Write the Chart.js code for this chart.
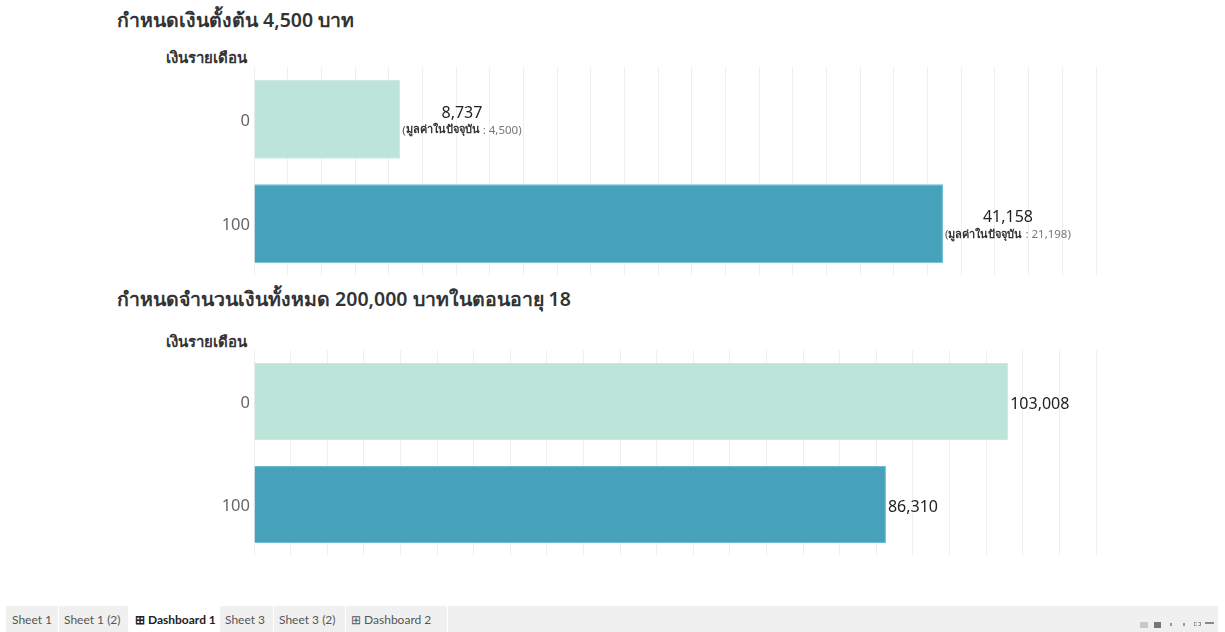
<!DOCTYPE html>
<html>
<head>
<meta charset="utf-8">
<script src="https://cdn.jsdelivr.net/npm/chart.js@4"></script>
<style>
  html, body { margin: 0; padding: 0; background: #fff; }
  body { width: 1225px; height: 632px; position: relative; overflow: hidden;
         font-family: "Noto Sans", "Open Sans", sans-serif; color: #333; }
  .title { position: absolute; left: 117px; font-size: 19.5px; font-weight: 600; color: #333; white-space: nowrap; }
  .axis-title { position: absolute; left: 166px; font-size: 15px; font-weight: 700; color: #333; white-space: nowrap; }
  canvas { position: absolute; left: 0; }
  .tabbar { position: absolute; left: 6px; top: 606px; width: 1212px; height: 26px; background: #f0f0f0;
            font-family: Lato, "Open Sans", sans-serif; font-size: 12px; color: #555; }
  .tab { position: absolute; top: 0; height: 26px; line-height: 28px; white-space: nowrap; }
  .tab.active { background: #fff; color: #222; font-weight: 700; }
  .sep { position: absolute; top: 0; width: 1px; height: 26px; background: #fff; }
  .icons { position: absolute; top: 622px; height: 8px; }
  .icons span { position: absolute; top: 0; height: 6px; }
</style>
</head>
<body>
<div class="title" style="top:5px">กำหนดเงินตั้งต้น 4,500 บาท</div>
<div class="axis-title" style="top:46px">เงินรายเดือน</div>
<canvas id="c1" width="1225" height="222" style="top:60px"></canvas>

<div class="title" style="top:284px">กำหนดจำนวนเงินทั้งหมด 200,000 บาทในตอนอายุ 18</div>
<div class="axis-title" style="top:330px">เงินรายเดือน</div>
<canvas id="c2" width="1225" height="212" style="top:344px"></canvas>

<div class="tabbar">
  <div class="tab" style="left:6px">Sheet 1</div>
  <div class="sep" style="left:52px"></div>
  <div class="tab" style="left:58px">Sheet 1 (2)</div>
  <div class="tab active" style="left:122px;width:92px;padding-left:7px;box-sizing:border-box">&#8862; Dashboard 1</div>
  <div class="tab" style="left:219px">Sheet 3</div>
  <div class="sep" style="left:267px"></div>
  <div class="tab" style="left:273px">Sheet 3 (2)</div>
  <div class="sep" style="left:339px"></div>
  <div class="tab" style="left:345px">&#8862; Dashboard 2</div>
  <div class="sep" style="left:441px"></div>
</div>
<div class="icons" style="left:1140px">
  <span style="left:0;width:8px;background:#c8c8c8"></span>
  <span style="left:14px;width:7px;background:#777"></span>
  <span style="left:30px;top:1px;width:2px;height:3px;background:#999"></span>
  <span style="left:43px;top:1px;width:2px;height:3px;background:#999"></span>
  <span style="left:54px;width:7px;border:1px dashed #999;height:4px;box-sizing:border-box"></span>
  <span style="left:65px;width:9px;border-top:2px solid #888;height:6px;box-sizing:border-box"></span>
</div>

<script>
// Monthly contribution categories (baht per month)
const categories = ['0', '100'];

// Chart 1: starting amount 4,500 baht
const futureValues1 = [8737, 41158];
const presentValues1 = [4500, 21198];

// Chart 2: target total of 200,000 baht at age 18
const startAmounts2 = [103008, 86310];

const barColors = ['#bde4d9', '#45a2ba'];
const barBorders = ['#c6e9df', '#6bbcd0'];

const fmt = v => v.toLocaleString('en-US');
const FONT = '"Noto Sans", "Open Sans", sans-serif';

// Draws the value label (and optional present-value line) past the end of each bar
const barLabels = {
  id: 'barLabels',
  afterDatasetsDraw(chart, args, opts) {
    const { ctx } = chart;
    const meta = chart.getDatasetMeta(0);
    const data = chart.data.datasets[0].data;
    ctx.save();
    meta.data.forEach((bar, i) => {
      const x = bar.x + 2;
      const y = bar.y;
      const main = fmt(data[i]);
      ctx.textBaseline = 'middle';
      if (opts.present) {
        const pv = opts.present[i];
        const partA = '(';
        const partB = 'มูลค่าในปัจจุบัน';
        const partC = ' : ' + fmt(pv) + ')';
        ctx.font = '11.5px ' + FONT;
        const wA = ctx.measureText(partA).width;
        const wC = ctx.measureText(partC).width;
        ctx.font = 'bold 11px ' + FONT;
        const wB = ctx.measureText(partB).width;
        const w2 = wA + wB + wC;
        ctx.font = '16px ' + FONT;
        const w1 = ctx.measureText(main).width;
        const blockW = Math.max(w1, w2);
        const cx = x + blockW / 2;
        ctx.fillStyle = '#222';
        ctx.textAlign = 'center';
        ctx.fillText(main, cx, y - 6);
        let sx = cx - w2 / 2;
        ctx.textAlign = 'left';
        ctx.font = '11.5px ' + FONT;
        ctx.fillStyle = '#555';
        ctx.fillText(partA, sx, y + 11);
        sx += wA;
        ctx.font = 'bold 11px ' + FONT;
        ctx.fillStyle = '#333';
        ctx.fillText(partB, sx, y + 11);
        sx += wB;
        ctx.font = '11.5px ' + FONT;
        ctx.fillStyle = '#777';
        ctx.fillText(partC, sx, y + 11);
      } else {
        ctx.font = '16px ' + FONT;
        ctx.fillStyle = '#222';
        ctx.textAlign = 'left';
        ctx.fillText(main, x, y + 2.5);
      }
    });
    ctx.restore();
  }
};

function makeChart(id, values, xMax, step, barPct, padding, present) {
  return new Chart(document.getElementById(id), {
    type: 'bar',
    data: {
      labels: categories,
      datasets: [{
        data: values,
        backgroundColor: barColors,
        borderColor: barBorders,
        borderWidth: 1,
        barPercentage: barPct,
        categoryPercentage: 1
      }]
    },
    options: {
      indexAxis: 'y',
      responsive: false,
      animation: false,
      devicePixelRatio: 1,
      layout: { padding },
      plugins: {
        legend: { display: false },
        tooltip: { enabled: false },
        barLabels: { present }
      },
      scales: {
        x: {
          min: 0, max: xMax,
          ticks: { display: false, stepSize: step },
          grid: { color: '#f0f0f0', lineWidth: 1, drawTicks: false },
          border: { display: false },
          afterFit: s => { s.height = 0; s.paddingLeft = 0; s.paddingRight = 0; s.paddingTop = 0; s.paddingBottom = 0; }
        },
        y: {
          ticks: { color: '#666', font: { size: 16.5, family: FONT }, padding: 4, labelOffset: 2 },
          grid: { display: false, drawTicks: false },
          border: { display: false },
          afterFit: s => { s.width = 254; s.paddingTop = 0; s.paddingBottom = 0; s.paddingLeft = 0; s.paddingRight = 0; }
        }
      }
    },
    plugins: [barLabels]
  });
}

makeChart('c1', futureValues1, 50300, 2000, 0.756, { left: 0, right: 129, top: 7, bottom: 6 }, presentValues1);
makeChart('c2', startAmounts2, 115000, 5000, 0.748, { left: 0, right: 129, top: 6, bottom: 0 }, null);
</script>
</body>
</html>
